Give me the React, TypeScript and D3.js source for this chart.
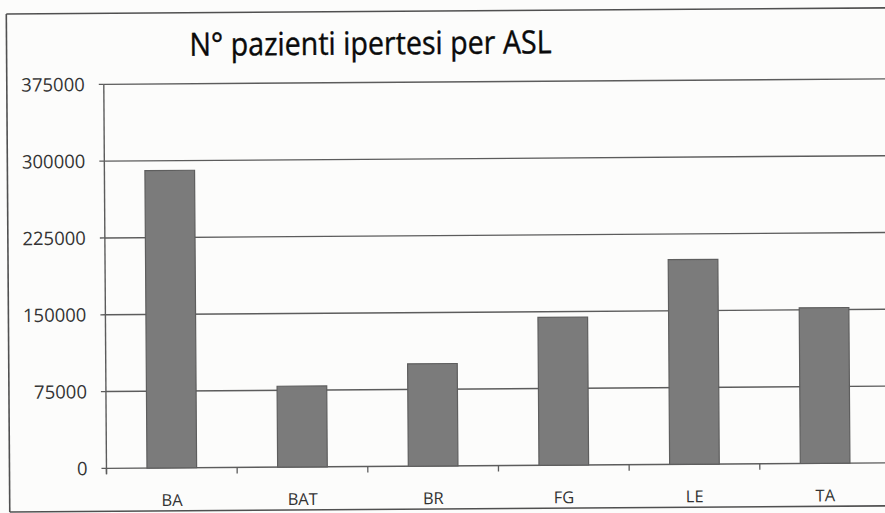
import React, { useEffect } from "react";
import * as d3 from "d3";

const categories = ["BA", "BAT", "BR", "FG", "LE", "TA"];
const values = [290500, 79000, 100000, 144500, 200000, 152000];
const yTicks = [0, 75000, 150000, 225000, 300000, 375000];
const title = "N° pazienti ipertesi per ASL";

const W = 885;
const H = 513;
const margin = { left: 105, top: 82, right: -4, bottom: 47 };

export default function App() {
  useEffect(() => {
    document.body.style.margin = "0";
    document.body.style.overflow = "hidden";
  }, []);
  const x = d3
    .scaleBand<string>()
    .domain(categories)
    .range([margin.left, W - margin.right])
    .paddingInner(0.62)
    .paddingOuter(0.31);
  const y = d3.scaleLinear().domain([0, 375000]).range([H - margin.bottom, margin.top]);
  const step = x.step();
  const bounds = d3.range(categories.length).map((i) => margin.left + i * step);
  const font = "'Open Sans', 'Liberation Sans', sans-serif";

  return (
    <svg
      width={W}
      height={H}
      style={{ position: "absolute", left: 0, top: 0, background: "#fcfcfb", overflow: "hidden", display: "block" }}
    >
      <g transform={`rotate(-0.4 ${W / 2} ${H / 2})`}>
        <line x1={8} x2={W + 30} y1={11} y2={11} stroke="#505050" strokeWidth={1.6} />
        <line x1={8} x2={W + 30} y1={509} y2={509} stroke="#505050" strokeWidth={1.6} />
        <line x1={8} x2={8} y1={11} y2={509} stroke="#505050" strokeWidth={1.6} />
        <text
          x={372}
          y={54}
          textAnchor="middle"
          fontFamily={font}
          fontSize={32}
          textLength={362}
          lengthAdjust="spacingAndGlyphs"
          fill="#0a0a0a"
          stroke="#0a0a0a"
          strokeWidth={0.4}
        >
          {title}
        </text>
        {yTicks.map((t) => (
          <g key={t}>
            <line
              x1={margin.left}
              x2={W + 10}
              y1={y(t)}
              y2={y(t)}
              stroke="#5c5c5c"
              strokeWidth={1.4}
            />
            <line x1={margin.left - 5} x2={margin.left} y1={y(t)} y2={y(t)} stroke="#5c5c5c" strokeWidth={1.3} />
            <text
              x={86}
              y={y(t)}
              dy="0.36em"
              textAnchor="end"
              fontFamily={font}
              fontSize={18.5}
              fill="#333"
            >
              {t}
            </text>
          </g>
        ))}
        <line x1={margin.left} x2={margin.left} y1={y(375000)} y2={y(0) + 6} stroke="#5c5c5c" strokeWidth={1.4} />
        {bounds.map((b, i) => (
          <line key={i} x1={b} x2={b} y1={y(0)} y2={y(0) + 6} stroke="#5c5c5c" strokeWidth={1.3} />
        ))}
        {categories.map((c, i) => (
          <rect
            key={c}
            x={x(c)}
            y={y(values[i])}
            width={x.bandwidth()}
            height={y(0) - y(values[i])}
            fill="#7b7b7b"
            stroke="#5e5e5e"
            strokeWidth={1.2}
          />
        ))}
        {categories.map((c) => (
          <text
            key={c}
            x={(x(c) as number) + x.bandwidth() / 2}
            y={H - 9}
            textAnchor="middle"
            fontFamily={font}
            fontSize={16.5}
            fill="#333"
          >
            {c}
          </text>
        ))}
      </g>
    </svg>
  );
}
